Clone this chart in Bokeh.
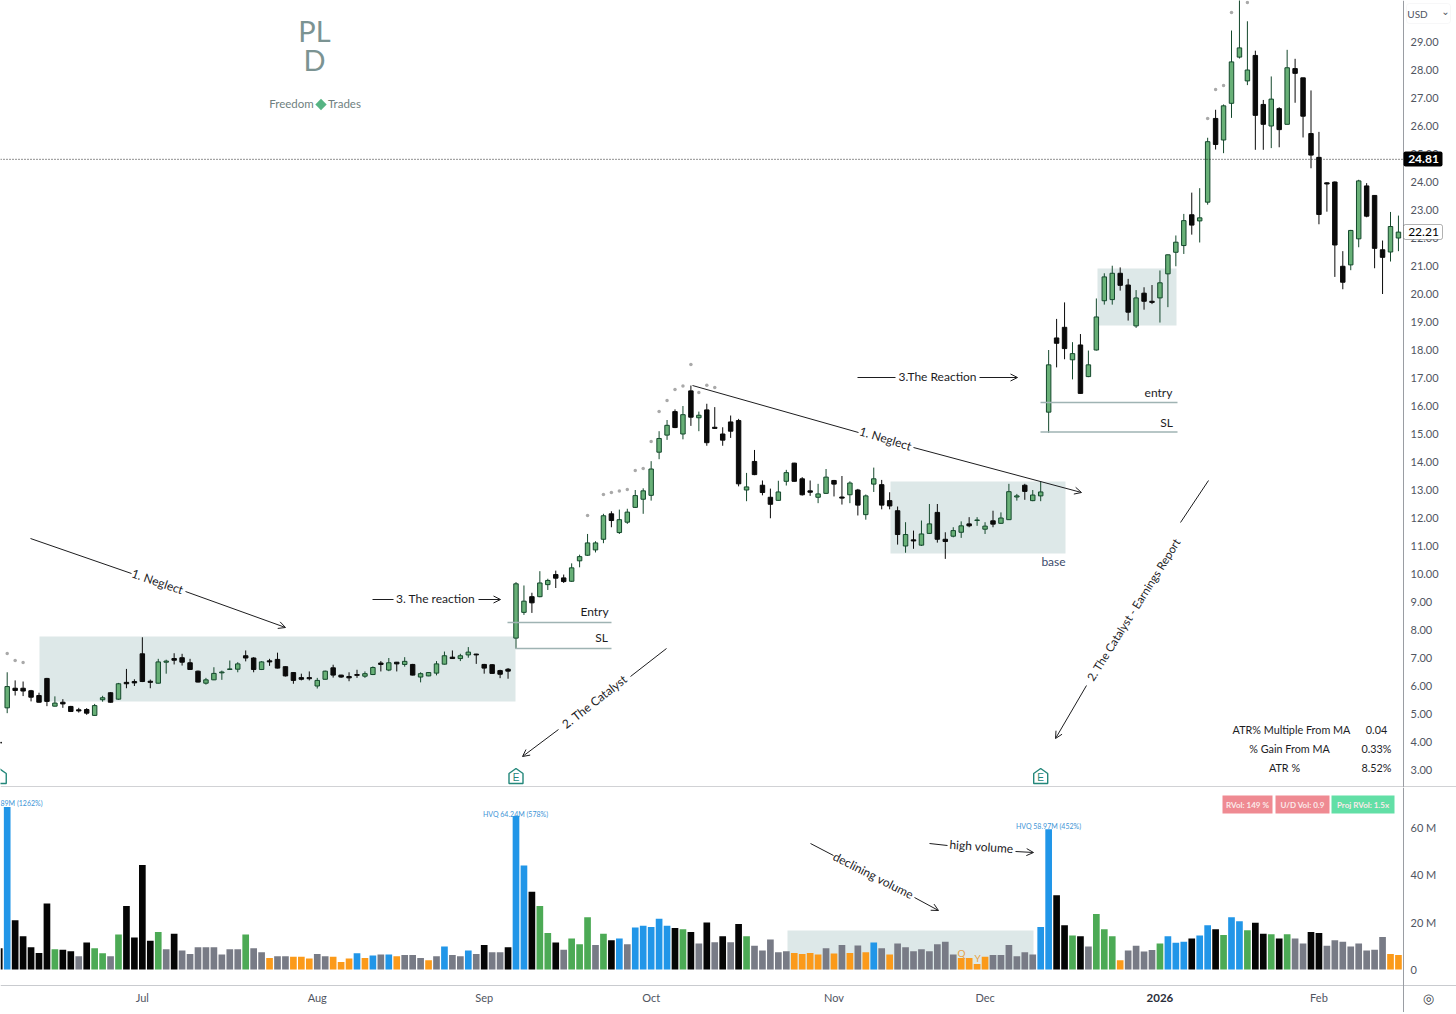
from bokeh.plotting import figure
from bokeh.layouts import column
from bokeh.models import (Range1d, FixedTicker, NumeralTickFormatter, BoxAnnotation, Label,
                          Arrow, OpenHead, ColumnDataSource)
from bokeh.embed import file_html
from bokeh.resources import INLINE

# ---------- data (prices in USD, volume in millions) ----------
opens = [5.22,5.92,5.92,5.83,5.66,6.27,5.28,5.42,5.27,5.15,
 5.16,4.95,5.51,5.76,5.53,6.13,6.16,7.15,6.17,6.10,
 6.85,6.98,7.01,6.83,6.53,6.10,6.22,6.47,6.59,6.60,
 7.08,7.00,6.59,6.90,6.95,6.69,6.48,6.30,6.30,6.00,
 6.24,6.65,6.39,6.34,6.41,6.35,6.41,6.82,6.57,6.85,
 6.77,6.77,6.32,6.36,6.46,6.78,7.03,6.98,7.11,7.14,
 6.77,6.76,6.55,6.60,7.71,8.63,9.19,9.19,9.62,9.98,
 9.86,9.74,10.47,10.67,10.86,11.24,12.15,11.48,11.85,12.38,
 12.67,12.81,14.35,14.96,15.80,15.00,16.54,15.58,15.86,15.24,
 15.00,15.43,15.48,13.00,14.02,13.17,12.74,12.63,13.31,13.96,
 13.40,12.97,12.74,12.88,13.34,12.75,12.83,13.00,12.12,13.21,
 13.19,12.62,12.26,11.00,11.22,11.03,11.45,12.20,11.24,11.35,
 11.49,11.79,11.91,11.60,11.90,11.81,11.94,12.75,13.17,12.62,
 12.79,15.78,18.43,18.81,17.65,18.18,17.05,18.00,19.76,19.80,
 20.74,20.32,18.86,20.03,19.74,19.86,20.72,21.49,21.73,22.83,
 22.61,23.28,26.27,25.50,26.81,28.46,27.61,28.52,26.77,26.00,
 26.62,26.06,28.05,27.72,25.73,24.88,23.97,24.00,20.99,21.04,
 21.97,23.86,23.52,21.58,21.50,22.00]
closes = [5.98,5.84,5.82,5.60,5.42,5.45,5.39,5.36,5.09,5.11,
 5.03,5.30,5.58,5.42,6.08,6.08,6.11,6.16,6.13,6.86,
 6.89,6.92,6.85,6.59,6.14,6.22,6.45,6.50,6.61,6.79,
 7.00,6.59,6.86,6.86,6.64,6.36,6.20,6.24,6.26,6.20,
 6.53,6.39,6.32,6.29,6.38,6.44,6.66,6.77,6.83,6.79,
 6.88,6.39,6.44,6.48,6.79,7.08,6.98,7.08,7.21,7.11,
 6.64,6.45,6.42,6.53,9.65,9.03,8.97,9.68,9.77,9.85,
 9.73,10.22,10.62,11.11,11.11,12.08,11.91,11.94,12.21,12.80,
 12.97,13.75,14.84,15.31,15.23,15.69,15.60,15.67,14.69,15.20,
 14.78,15.10,13.22,13.11,13.55,12.91,12.49,12.93,13.62,13.31,
 12.83,12.92,12.86,13.46,13.21,12.71,13.25,12.46,12.79,13.40,
 12.46,12.43,11.41,11.41,11.18,11.43,11.79,11.24,11.16,11.55,
 11.72,11.72,11.93,11.71,11.78,12.00,12.94,12.79,12.95,12.82,
 12.93,17.47,18.24,18.05,17.87,16.45,17.47,19.18,20.61,20.74,
 20.31,19.35,19.86,19.74,19.70,20.40,21.40,21.85,22.62,22.46,
 22.72,25.44,25.34,26.72,28.29,28.79,28.00,26.38,26.06,26.96,
 25.87,28.08,27.88,26.35,24.96,22.84,23.93,21.75,20.42,22.27,
 24.04,22.78,21.63,21.31,22.41,22.21]
highs = [6.49,6.20,6.16,5.86,5.76,6.29,5.63,5.53,5.29,5.22,
 5.21,5.36,5.65,5.78,6.11,6.61,6.24,7.74,6.23,6.97,
 6.94,7.17,7.15,6.97,6.55,6.29,6.67,6.55,6.91,6.85,
 7.27,7.03,6.89,6.97,7.19,6.70,6.49,6.44,6.52,6.29,
 6.55,6.76,6.40,6.49,6.58,6.52,6.70,6.89,7.00,6.86,
 7.03,6.79,6.49,6.49,6.89,7.23,7.27,7.15,7.39,7.15,
 6.79,6.78,6.58,6.64,9.71,9.59,9.33,10.10,9.83,10.12,
 9.98,10.38,10.69,11.43,11.17,12.15,12.24,12.30,12.33,13.00,
 13.06,14.03,15.10,15.50,15.88,16.00,16.73,15.80,16.08,15.96,
 15.24,15.66,15.54,13.61,14.43,13.34,13.05,13.33,13.72,13.97,
 13.46,13.34,13.22,13.75,13.36,13.50,13.31,13.04,12.84,13.80,
 13.36,12.92,12.41,11.85,11.55,11.91,12.50,12.50,11.49,11.67,
 11.88,12.03,12.03,11.85,12.26,12.20,13.22,12.86,13.22,13.00,
 13.31,18.00,19.11,19.70,18.28,18.57,17.98,19.84,20.74,21.01,
 20.95,20.54,20.14,20.24,20.32,20.84,21.41,22.09,22.86,23.62,
 23.78,25.58,26.58,26.77,29.41,30.80,29.74,28.69,26.93,27.77,
 26.67,28.72,28.40,27.72,27.27,25.79,23.99,24.02,21.53,22.29,
 24.08,23.96,23.53,21.91,22.93,22.80]
lows = [5.03,5.66,5.64,5.45,5.41,5.28,5.27,5.22,5.07,5.05,
 4.97,4.94,5.44,5.41,5.51,5.92,6.00,6.14,5.92,6.09,
 6.44,6.77,6.73,6.58,6.13,6.05,6.21,6.22,6.59,6.49,
 6.88,6.49,6.57,6.72,6.63,6.34,6.08,6.20,6.20,5.91,
 6.23,6.30,6.29,6.17,6.29,6.29,6.39,6.52,6.53,6.52,
 6.69,6.38,6.13,6.35,6.38,6.77,6.97,6.89,7.01,6.79,
 6.44,6.44,6.28,6.26,7.33,8.54,8.61,9.17,9.43,9.50,
 9.68,9.72,10.24,10.65,10.77,11.10,11.67,11.43,11.79,12.36,
 12.15,12.62,14.10,14.79,15.21,14.81,15.29,15.10,14.58,15.18,
 14.58,14.86,13.13,12.60,13.53,12.81,11.99,12.62,13.16,13.30,
 12.80,12.79,12.53,12.86,12.77,12.48,12.53,12.09,11.94,12.93,
 12.31,12.31,11.05,10.76,10.90,11.00,11.43,11.12,10.54,11.31,
 11.29,11.67,11.72,11.43,11.67,11.79,11.93,12.62,12.65,12.60,
 12.60,15.04,17.38,17.67,16.95,16.44,17.03,17.98,19.62,19.62,
 20.12,19.05,18.79,19.44,19.64,18.98,19.53,20.99,21.43,22.12,
 21.84,23.19,25.16,25.03,26.29,28.41,27.46,25.15,25.15,25.21,
 25.24,26.06,26.83,25.59,24.49,22.49,22.94,20.61,20.17,20.85,
 21.67,22.74,20.92,20.00,21.16,21.53]
volumes = [68.7,20.8,14.1,9.4,7.0,27.9,8.6,8.3,7.7,5.6,
 11.4,9.0,6.9,5.6,14.8,26.8,13.5,44.2,12.1,15.8,
 8.6,15.1,8.0,6.6,9.4,9.4,9.4,6.3,8.6,8.6,
 14.8,9.0,7.3,4.9,5.6,5.6,5.4,5.4,4.6,6.6,
 5.6,5.4,3.2,4.6,6.9,4.9,5.9,6.3,6.3,5.6,
 6.1,6.1,4.9,3.9,5.6,9.7,6.1,5.6,8.0,6.6,
 10.3,7.3,7.3,9.4,64.8,43.9,32.8,26.8,15.4,11.4,
 8.3,13.1,10.7,22.1,10.3,15.1,12.4,13.1,10.7,17.7,
 18.5,18.0,21.4,18.5,17.5,17.0,15.8,11.0,19.9,11.5,
 14.1,11.5,19.2,14.1,10.0,8.0,12.7,7.3,7.7,7.0,
 6.6,7.0,6.3,9.0,6.8,10.3,7.0,10.1,7.3,11.4,
 9.0,6.3,11.0,9.4,7.7,8.6,7.7,10.7,11.7,6.3,
 4.9,4.9,2.3,5.4,6.1,6.1,10.3,5.6,7.3,6.3,
 18.0,59.3,31.4,18.7,14.4,14.1,9.7,23.4,17.0,14.1,
 3.9,8.0,10.0,7.6,8.2,11.0,14.1,11.3,11.7,13.1,
 14.4,18.7,17.0,14.6,22.1,20.4,16.6,19.7,15.1,14.9,
 13.1,14.9,13.1,11.0,15.8,15.4,10.0,12.4,11.7,9.7,
 11.0,8.0,8.3,13.7,6.6,6.1]
volume_kinds = list(
 "hddddduddn" "duunudddd" "u"
 "ndnnnnnnnn" "unnlnnllln"
 "nlllhlhnhl" "nnnlnhnnhn"
 "dnndhhduud" "nuuunudhnh"
 "hhhhdudndn" "dndunnnnnl"
 "lllnlnlnlh" "nlnnnnnnnn"
 "llllnnnnnn" "hhddudnuuu"
 "lnnnnuhhhd" "hhduhhuddu"
 "dunnddnnnn" "nnnnll")
prior_bar_index, prior_open, prior_close, prior_volume = -1, 3.99, 3.96, 9.0
dot_index = [0,1,2,73,75,76,77,78,79,80,81,82,83,84,85,86,87,88,89,151,152,153,154,156]
dot_price = [7.16,6.91,6.84,12.09,12.84,12.91,12.96,13.02,13.70,13.77,14.73,15.80,16.20,16.59,
             16.71,17.48,16.48,16.74,16.66,26.27,27.30,27.45,30.05,30.41]
earnings_index = [-1, 64, 130]
month_ticks = [17, 39, 60, 81, 104, 123, 165]
month_labels = ["Jul", "Aug", "Sep", "Oct", "Nov", "Dec", "Feb"]
year_tick, year_label = 145, "2026"
price_ticks = list(range(3, 30))
volume_ticks = [0, 20, 40, 60]
volume_tick_labels = ["0", "20 M", "40 M", "60 M"]
hline_price, last_price = 24.81, 22.21

# ---------- page mapping ----------
FONT = "Lato"
PX0, PXSTEP = 6.7, 7.95
def X(px): return (px - PX0) / PXSTEP
def Y(py): return (853.5 - py) / 28.0
def V(py): return (969.0 - py) / 2.367
FULL_W = 1456
SCALE_X = 1403
KIND_COLORS = {"h": "#2196e8", "d": "#050505", "u": "#4caa55", "n": "#787b86", "l": "#fb9a1a"}
GREEN_FILL, GREEN_EDGE, BLACK = "#68b077", "#14482c", "#0a0a0a"
BOX = "#dde8e8"
INK = "#1d1d1f"
AXIS_TEXT = "#50555f"

def base_fig(frame_h, yrange):
    f = figure(frame_width=FULL_W, frame_height=frame_h, output_backend="svg", toolbar_location=None,
               x_range=Range1d(X(0), X(FULL_W)), y_range=Range1d(*yrange), y_axis_location="right",
               min_border_left=0, min_border_top=0, min_border_right=0,
               min_border_bottom=0, outline_line_color=None, background_fill_color="white")
    f.grid.visible = False
    ax = f.yaxis[0]
    ax.fixed_location = X(SCALE_X)
    ax.major_tick_line_color = None
    ax.minor_tick_line_color = None
    ax.major_tick_out = 0
    ax.major_tick_in = 0
    ax.axis_line_color = "#9a9da3"
    ax.major_label_text_font = FONT
    ax.major_label_text_font_size = "11px"
    ax.major_label_text_color = AXIS_TEXT
    ax.major_label_standoff = 7
    return f

p = base_fig(787, (Y(787), Y(0)))
p.xaxis.visible = False
p.yaxis[0].ticker = FixedTicker(ticks=price_ticks)
p.yaxis[0].formatter = NumeralTickFormatter(format="0.00")

v = base_fig(225, (V(1012), V(787)))
v.yaxis[0].ticker = FixedTicker(ticks=volume_ticks)
v.yaxis[0].major_label_overrides = dict(zip(volume_ticks, volume_tick_labels))
xa = v.xaxis[0]
xa.fixed_location = V(985)
xa.ticker = FixedTicker(ticks=month_ticks)
xa.major_label_overrides = dict(zip(month_ticks, month_labels))
xa.major_tick_line_color = None
xa.minor_tick_line_color = None
xa.major_tick_out = 0
xa.major_tick_in = 0
xa.axis_line_color = "#c9cbcf"
xa.major_label_text_font = FONT
xa.major_label_text_font_size = "11px"
xa.major_label_text_color = AXIS_TEXT
xa.major_label_standoff = 5

def note(f, oy, px, py, text, size=12, color=INK, angle=0, align="center", style="normal", font=FONT):
    f.add_layout(Label(x=px, y=py - oy - 1, x_units="canvas", y_units="canvas", text=text,
                       text_font=font, text_font_size=f"{size}px", text_color=color,
                       text_align=align, text_baseline="middle", angle=angle, angle_units="deg",
                       text_font_style=style))

def canvas_box(f, oy, x0, x1, y0, y1, fill, line=None, radius=0):
    f.add_layout(BoxAnnotation(left=x0, right=x1, top=y0 - oy, bottom=y1 - oy,
                               left_units="canvas", right_units="canvas", top_units="canvas",
                               bottom_units="canvas", fill_color=fill, fill_alpha=1,
                               line_color=line, border_radius=radius))

def seg(f, fy, pts, head=False):
    (x0, y0), (x1, y1) = pts
    f.add_layout(Arrow(x_start=X(x0), y_start=fy(y0), x_end=X(x1), y_end=fy(y1),
                       line_color=INK, line_width=1,
                       end=OpenHead(size=7, line_color=INK, line_width=1) if head else None))

# ---------- shaded zones ----------
for x0, x1, y0, y1 in [(39, 515, 636, 701), (890, 1065, 481, 553), (1097, 1176, 268, 325)]:
    p.quad(left=X(x0), right=X(x1), top=Y(y0), bottom=Y(y1), fill_color=BOX, line_color=None)
v.quad(left=X(787), right=X(1033), top=V(930), bottom=0, fill_color=BOX, line_color=None)

# ---------- candles ----------
idx = list(range(len(closes)))
up = [c >= o for o, c in zip(opens, closes)]
src = ColumnDataSource(dict(
    x=idx, o=opens, c=closes, h=highs, l=lows,
    top=[max(a, b) for a, b in zip(opens, closes)],
    bot=[min(a, b) for a, b in zip(opens, closes)],
    fill=[GREEN_FILL if u else BLACK for u in up],
    edge=[GREEN_EDGE if u else BLACK for u in up]))
p.segment("x", "h", "x", "l", source=src, line_color="edge", line_width=1)
p.vbar("x", 0.56, "top", "bot", source=src, fill_color="fill", line_color="edge", line_width=1)
p.vbar([prior_bar_index], 0.56, [prior_open], [prior_close], fill_color=BLACK, line_color=BLACK)
p.scatter(dot_index, dot_price, size=3.5, color="#a9a9a9", line_color=None)

# ---------- price level ----------
p.segment(X(0), hline_price, X(SCALE_X), hline_price, line_color="#222222", line_width=1, line_dash="1 2")

# ---------- level lines ----------
for x0, x1, y0 in [(507, 611, 622), (515, 611, 648), (1040, 1177, 402), (1040, 1177, 431.5)]:
    p.segment(X(x0), Y(y0), X(x1), Y(y0), line_color="#9fb3b3", line_width=1.4)

# ---------- drawings on the price pane ----------
seg(p, Y, [(30, 538), (131, 573)])
seg(p, Y, [(185, 591), (285, 627)], True)
seg(p, Y, [(372, 599), (393, 599)])
seg(p, Y, [(478, 599), (500, 599)], True)
seg(p, Y, [(666, 648), (630, 676)])
seg(p, Y, [(558, 729), (522, 756)], True)
seg(p, Y, [(692, 385), (858, 432)])
seg(p, Y, [(913, 447), (1081, 492)], True)
seg(p, Y, [(857, 377), (895, 377)])
seg(p, Y, [(979, 377), (1017, 377)], True)
seg(p, Y, [(1208, 480), (1180, 522)])
seg(p, Y, [(1086, 685), (1055, 738)], True)
O1 = 0
note(p, O1, 157, 582, "1. Neglect", angle=-19)
note(p, O1, 435, 599, "3. The reaction")
note(p, O1, 594, 702, "2. The Catalyst", angle=38)
note(p, O1, 885, 439, "1. Neglect", angle=-17)
note(p, O1, 937, 377, "3.The Reaction")
note(p, O1, 1133, 610, "2. The Catalyst - Earnings Report", size=11.5, angle=58)
note(p, O1, 594, 612, "Entry")
note(p, O1, 601, 638, "SL")
note(p, O1, 1158, 393, "entry")
note(p, O1, 1166, 423, "SL")
note(p, O1, 1053, 562, "base", color="#3b4a6b")

# ---------- watermark ----------
note(p, O1, 314, 31, "PL", size=29, color="#7b9392")
note(p, O1, 314, 60, "D", size=29, color="#7b9392")
note(p, O1, 291, 104, "Freedom", size=11.5, color="#6f7f80")
note(p, O1, 344, 104, "Trades", size=11.5, color="#6f7f80")
p.scatter([X(320.5)], [Y(104)], marker="square", angle=0.785, size=8, color="#56b483", line_color=None)

# ---------- earnings flags ----------
xs = [[i + dx / PXSTEP for dx in (-7, 0, 7, 7, -7)] for i in earnings_index]
ys = [[Y(776 + dy) for dy in (-3, -8, -3, 7, 7)] for _ in earnings_index]
p.patches(xs, ys, fill_color="white", line_color="#23877a", line_width=1.4)
shown = [i for i in earnings_index if i >= 0]
p.text(shown, [Y(777)] * len(shown), text=["E"] * len(shown),
       text_align="center", text_baseline="middle", text_font_size="10px", text_color="#23877a")

# ---------- stats table ----------
for py, name, val, nx in [(730, "ATR% Multiple From MA", "0.04", 1291), (749, "% Gain From MA", "0.33%", 1289),
                          (768, "ATR %", "8.52%", 1284)]:
    note(p, O1, nx, py, name, size=10.8)
    note(p, O1, 1376, py, val, size=10.8)

# ---------- price scale badges ----------
canvas_box(p, O1, 1403, 1442, 151, 166, "#000000", None, 2)
note(p, O1, 1423, 159, f"{hline_price:.2f}", size=12, color="white", style="bold")
canvas_box(p, O1, 1403, 1442, 224, 239, "#ffffff", "#000000", 2)
note(p, O1, 1423, 232, f"{last_price:.2f}", size=12, color="#000000")
canvas_box(p, O1, 1406, 1450, 3, 23, "#ffffff", "#e4e5e8", 3)
note(p, O1, 1417, 14, "USD", size=10, color=AXIS_TEXT)
note(p, O1, 1445, 12, "⌄", size=10, color=AXIS_TEXT, font="DejaVu Sans")
canvas_box(p, O1, 0, 1456, 786, 787, "#a3a6ab")

# ---------- volume bars ----------
vsrc = ColumnDataSource(dict(x=idx, top=volumes, color=[KIND_COLORS[k] for k in volume_kinds]))
v.vbar("x", 0.84, "top", 0, source=vsrc, fill_color="color", line_color=None)
v.vbar([prior_bar_index], 0.84, [prior_volume], [0], fill_color=KIND_COLORS["d"], line_color=None)

O2 = 787
note(v, O2, 0, 803, "89M (1262%)", size=7, color="#3d94d6", align="left")
note(v, O2, 515, 814, "HVQ 64.24M (578%)", size=7, color="#3d94d6")
note(v, O2, 1048, 826, "HVQ 58.97M (452%)", size=7, color="#3d94d6")
seg(v, V, [(810, 843), (833, 855)])
seg(v, V, [(914, 897), (938, 910)], True)
seg(v, V, [(929, 843), (947, 845)])
seg(v, V, [(1015, 851), (1033, 852)], True)
note(v, O2, 873, 876, "declining volume", angle=-27)
note(v, O2, 981, 847, "high volume", angle=-4)
note(v, O2, 961, 953, "Q", size=10, color="#e6a347")
note(v, O2, 977, 958, "Y", size=10, color="#e6a347")

# ---------- status pills ----------
for x0, x1, col, txt in [(1222, 1272, "#ef8a92", "RVol: 149 %"), (1275, 1329, "#ef8a92", "U/D Vol: 0.9"),
                         (1331, 1394, "#62dfa6", "Proj RVol: 1.5x")]:
    v.quad(left=X(x0), right=X(x1), top=V(795), bottom=V(813), fill_color=col, line_color=None)
    note(v, O2, (x0 + x1) / 2, 805, txt, size=8, color="#fbeaea", style="bold")

# ---------- bottom strip ----------
note(v, O2, PX0 + year_tick * PXSTEP, 998, year_label, size=11.5, color="#2a2e39", style="bold")
note(v, O2, 1428, 999, "◎", size=13, color="#3a3e47", font="DejaVu Sans")

page = column(p, v, spacing=0)
open("out.html", "w").write(file_html(page, INLINE))
